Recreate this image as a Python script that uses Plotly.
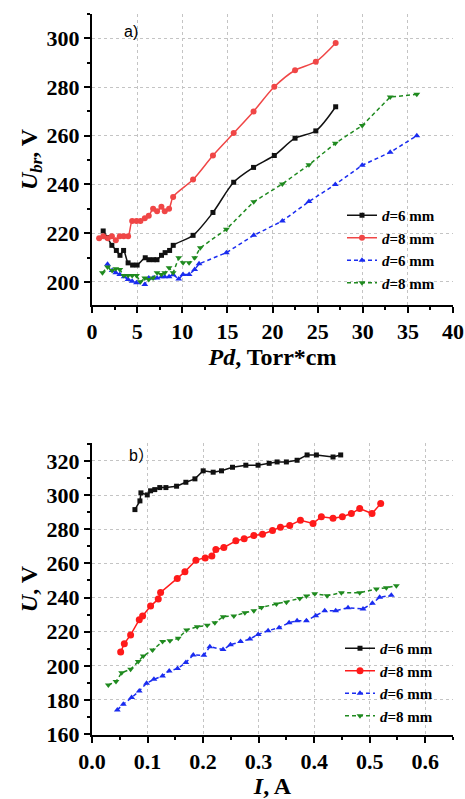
import plotly.graph_objects as go

W, H = 465, 799

# ---------------- panel a) : Ubr vs Pd ----------------
pd_6_solid = [1.24, 1.7, 2.2, 2.7, 3.1, 3.5, 4.0, 4.5, 5.0, 5.9, 6.3, 6.8, 7.2, 7.7, 8.1, 8.6, 9.0,
              11.2, 13.4, 15.7, 17.9, 20.2, 22.5, 24.8, 27.0]
ub_6_solid = [220.9, 218.2, 215.0, 212.9, 210.9, 212.9, 207.8, 206.9, 206.9, 209.9, 209.1, 209.1, 209.1,
              210.9, 212.0, 212.9, 215.0, 219.1, 228.5, 240.9, 247.0, 251.9, 259.0, 262.0, 271.9]

pd_8_solid = [0.79, 1.25, 1.75, 2.2, 2.64, 3.08, 3.52, 4.0, 4.45, 4.93, 5.37, 5.85, 6.29, 6.77, 7.21,
              7.69, 8.06, 8.54, 8.99, 11.2, 13.4, 15.7, 17.9, 20.2, 22.5, 24.8, 27.0]
ub_8_solid = [217.9, 218.7, 217.9, 218.7, 217.1, 218.7, 218.7, 218.7, 225.0, 225.0, 225.0, 226.1, 227.1,
              230.0, 229.0, 230.8, 229.0, 230.0, 234.9, 242.0, 251.9, 261.1, 270.0, 280.1, 286.9, 290.4, 298.1]

pd_6_dash = [1.72, 2.23, 2.64, 3.08, 3.56, 4.0, 4.45, 4.93, 5.85, 6.29, 6.77, 7.21, 7.69, 8.06, 8.54,
             8.99, 9.61, 10.09, 10.76, 11.38, 11.86, 14.89, 17.92, 21.09, 24.04, 26.96, 29.94, 33.04, 35.99]
ub_6_dash = [207.2, 204.7, 203.7, 203.0, 202.1, 201.0, 200.3, 199.6, 198.9, 201.6, 201.6, 201.6, 202.1,
             202.1, 202.1, 202.9, 201.2, 203.0, 203.0, 205.1, 207.4, 212.0, 219.1, 225.0, 233.0, 240.0,
             247.9, 253.2, 260.0]

pd_8_dash = [1.16, 1.72, 2.23, 2.64, 3.08, 3.52, 4.0, 4.45, 4.93, 5.37, 5.85, 6.29, 6.77, 7.21, 7.69,
             8.06, 8.54, 8.99, 9.61, 10.09, 10.76, 11.38, 12.0, 14.89, 17.92, 21.09, 24.04, 26.96, 29.94,
             33.04, 35.99]
ub_8_dash = [203.7, 206.1, 204.7, 205.4, 205.1, 202.6, 202.6, 202.6, 202.6, 200.0, 201.6, 201.0, 201.6,
             203.7, 203.0, 203.7, 205.8, 203.7, 209.9, 207.8, 207.8, 209.9, 214.0, 221.6, 232.9, 240.2,
             248.1, 256.9, 264.2, 275.9, 277.0]

# ---------------- panel b) : U vs I ----------------
i_6_solid = [0.0773, 0.0863, 0.0881, 0.0995, 0.1055, 0.113, 0.122, 0.1331, 0.1523, 0.169, 0.1853,
             0.2002, 0.2182, 0.2332, 0.253, 0.277, 0.299, 0.319, 0.3333, 0.35, 0.3693, 0.3873, 0.404,
             0.434, 0.4478]
u_6_solid = [291.5, 296.6, 301.3, 300.1, 302.5, 303.2, 304.4, 304.4, 305.2, 307.5, 309.5, 314.2, 313.4,
             314.2, 316.3, 317.5, 317.5, 318.6, 319.4, 319.4, 320.4, 323.5, 323.5, 322.3, 323.5]

i_8_solid = [0.0516, 0.0582, 0.0695, 0.0851, 0.0911, 0.1055, 0.1193, 0.1235, 0.1535, 0.1673, 0.1871,
             0.2038, 0.2158, 0.223, 0.2374, 0.259, 0.274, 0.2914, 0.307, 0.325, 0.3393, 0.356, 0.3753,
             0.398, 0.413, 0.434, 0.4508, 0.467, 0.482, 0.5042, 0.5198]
u_8_solid = [208.1, 213.0, 218.1, 227.0, 229.2, 235.0, 239.1, 243.0, 251.2, 255.1, 261.9, 263.1, 264.3,
             268.1, 269.3, 273.2, 274.4, 276.3, 277.1, 279.3, 281.2, 282.2, 285.3, 283.4, 287.3, 286.5,
             287.3, 289.2, 292.1, 289.2, 295.0]

i_6_dash = [0.0456, 0.0564, 0.0713, 0.0851, 0.0983, 0.1115, 0.127, 0.139, 0.154, 0.169, 0.1823, 0.2014,
            0.2122, 0.236, 0.2494, 0.2674, 0.2842, 0.2992, 0.3171, 0.3369, 0.3549, 0.3693, 0.3861, 0.4029,
            0.419, 0.4388, 0.461, 0.488, 0.5048, 0.518, 0.539]
u_6_dash = [174.2, 177.5, 181.4, 185.3, 189.8, 192.1, 194.1, 197.0, 198.4, 201.9, 206.4, 206.2, 211.2,
            209.5, 212.4, 214.3, 215.7, 218.4, 220.6, 222.3, 225.3, 226.4, 226.4, 229.4, 232.3, 232.3,
            234.0, 233.3, 236.6, 240.1, 241.4]

i_8_dash = [0.0294, 0.0432, 0.0534, 0.0695, 0.0833, 0.0923, 0.1091, 0.127, 0.1403, 0.1553, 0.1703,
            0.1894, 0.2074, 0.2212, 0.2362, 0.2554, 0.2752, 0.2914, 0.3052, 0.3321, 0.3501, 0.3741,
            0.3861, 0.4011, 0.4233, 0.449, 0.482, 0.512, 0.53, 0.548]
u_8_dash = [188.8, 190.8, 196.0, 198.0, 202.5, 205.8, 209.3, 214.2, 214.7, 216.1, 221.0, 222.9, 223.7,
            225.3, 228.8, 229.2, 231.1, 232.3, 234.2, 236.2, 237.3, 239.5, 240.9, 242.2, 241.1, 242.8,
            242.8, 245.0, 245.7, 246.9]

legend_names = ["<i>d</i>=6 mm", "<i>d</i>=8 mm", "<i>d</i>=6 mm", "<i>d</i>=8 mm"]

SERIF = "Liberation Serif"
BLACK = "#111111"
RED_A = "#f04646"
RED_B = "#ff1a1a"
BLUE = "#1a2cf0"
GREEN = "#1f8a1f"

fig = go.Figure()

def add(x, y, name, color, symbol, msize, dash, shape, xa, ya, legend):
    fig.add_trace(go.Scatter(
        x=x, y=y, name=name, mode="lines+markers",
        line=dict(color=color, width=1.5, dash=dash, shape=shape,
                  smoothing=0.8 if shape == "spline" else None),
        marker=dict(symbol=symbol, size=msize, color=color),
        xaxis=xa, yaxis=ya, legend=legend))

add(pd_6_solid, ub_6_solid, legend_names[0], BLACK, "square", 5, "solid", "spline", "x", "y", "legend")
add(pd_8_solid, ub_8_solid, legend_names[1], RED_A, "circle", 6, "solid", "spline", "x", "y", "legend")
add(pd_6_dash, ub_6_dash, legend_names[2], BLUE, "triangle-up", 6, "4px,3px", "linear", "x", "y", "legend")
add(pd_8_dash, ub_8_dash, legend_names[3], GREEN, "triangle-down", 6, "4px,3px", "linear", "x", "y", "legend")

add(i_6_solid, u_6_solid, legend_names[0], BLACK, "square", 5, "solid", "linear", "x2", "y2", "legend2")
add(i_8_solid, u_8_solid, legend_names[1], RED_B, "circle", 7, "solid", "linear", "x2", "y2", "legend2")
add(i_6_dash, u_6_dash, legend_names[2], BLUE, "triangle-up", 6, "4px,3px", "linear", "x2", "y2", "legend2")
add(i_8_dash, u_8_dash, legend_names[3], GREEN, "triangle-down", 6, "4px,3px", "linear", "x2", "y2", "legend2")


def axis(domain, rng, dtick, minor_dtick, title, anchor, standoff, fmt):
    return dict(
        domain=domain, range=rng, anchor=anchor, dtick=dtick, tick0=0, tickformat=fmt,
        showline=True, linecolor="black", linewidth=2, mirror=False,
        ticks="outside", ticklen=6, tickwidth=2, tickcolor="black",
        minor=dict(ticks="outside", ticklen=3, tickwidth=1.5, tickcolor="black",
                   dtick=minor_dtick, showgrid=False),
        showgrid=True, gridcolor="#c4c4c4", griddash="dot", gridwidth=1,
        zeroline=False, automargin=False,
        tickfont=dict(family=SERIF, size=22, color="black", weight="bold"),
        title=dict(text=title, standoff=standoff,
                   font=dict(family=SERIF, size=24, color="black", weight="bold")),
    )

xd = [92 / W, 453 / W]
ya_dom = [1 - 305 / H, 1 - 14 / H]
yb_dom = [1 - 735 / H, 1 - 443 / H]

def legend_cfg(x, y):
    return dict(x=x, y=y, xanchor="left", yanchor="top",
                font=dict(family=SERIF, size=15, color="black", weight="bold"),
                bgcolor="rgba(0,0,0,0)", borderwidth=0, tracegroupgap=0, itemwidth=30)

fig.update_layout(
    width=W, height=H, margin=dict(l=0, r=0, t=0, b=0, autoexpand=False),
    paper_bgcolor="white", plot_bgcolor="white",
    font=dict(family=SERIF, size=22, color="black", weight="bold"),
    xaxis=axis(xd, [0, 40], 5, 2.5, "<i>Pd</i>, Torr*cm", "y", 4, ""),
    yaxis=axis(ya_dom, [190.5, 310], 20, 10, "<i>U</i><sub><i>br</i></sub>, V", "x", 2, ""),
    xaxis2=axis(xd, [0, 0.65], 0.1, 0.05, "<i>I</i>, A", "y2", 3, ".1f"),
    yaxis2=axis(yb_dom, [159.5, 330.5], 20, 10, "<i>U</i>, V", "x2", 2, ""),
    legend=legend_cfg(342 / W, 1 - 199 / H),
    legend2=legend_cfg(340 / W, 1 - 632 / H),
    showlegend=True,
    annotations=[
        dict(text="a)", x=131 / W, y=1 - 31 / H, xref="paper", yref="paper",
             xanchor="center", yanchor="middle", showarrow=False,
             font=dict(family="Liberation Sans", size=16, color="black", weight="normal")),
        dict(text="b）", x=127 / W, y=1 - 455 / H, xref="paper", yref="paper",
             xanchor="left", yanchor="middle", showarrow=False,
             font=dict(family="Liberation Sans, Noto Sans CJK SC", size=16, color="black", weight="normal")),
    ],
)

fig.write_html("out.html", config={"displayModeBar": False},
               post_script="document.body.style.margin='0';document.body.style.overflow='hidden';")
